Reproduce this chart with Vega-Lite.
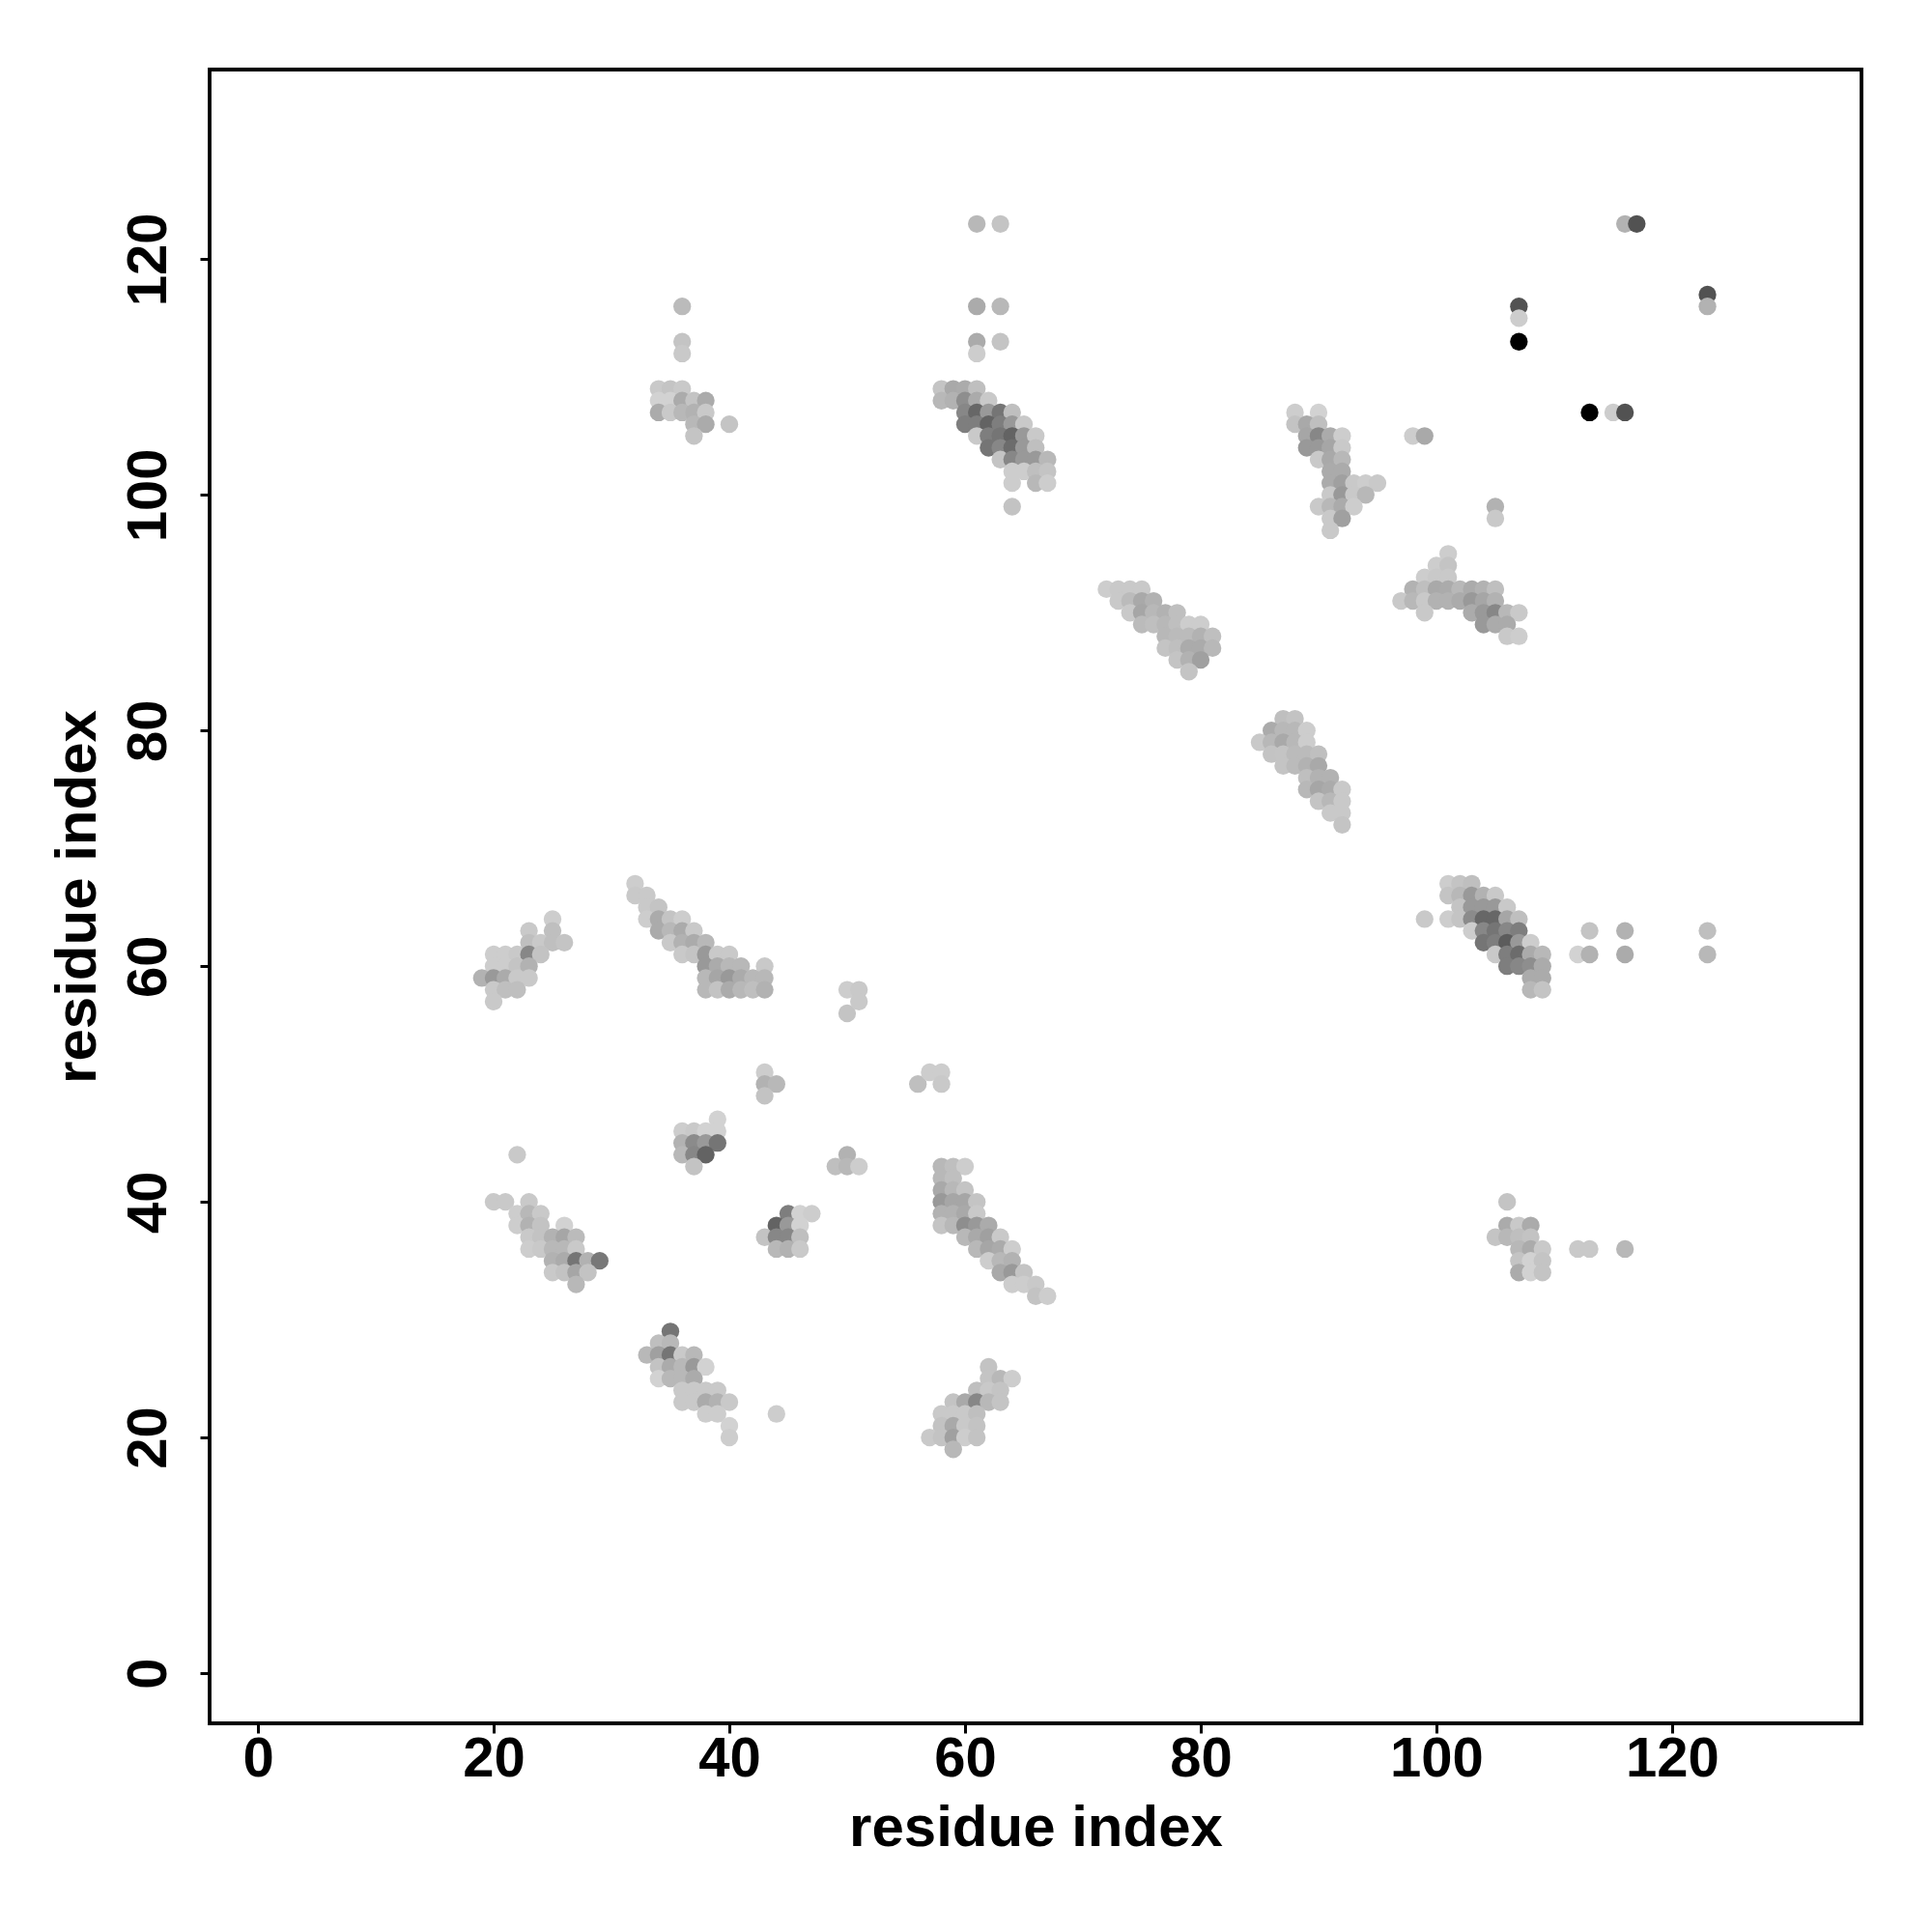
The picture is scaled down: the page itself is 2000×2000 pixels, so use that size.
{"$schema":"https://vega.github.io/schema/vega-lite/v6.json","width":1710,"height":1712,"autosize":"none","padding":{"left":217,"top":72,"right":73,"bottom":216},"background":"white",
"config":{"view":{"stroke":"black","strokeWidth":3.8,"fill":"white"},"axis":{"grid":false,"domain":false,"ticks":true,"tickColor":"black","tickSize":10,"tickWidth":3,"labelFont":"Liberation Sans","labelFontWeight":"bold","labelFontSize":58,"labelColor":"black","titleFont":"Liberation Sans","titleFontWeight":"bold","titleFontSize":60,"titleColor":"black","labelFlush":false,"labelOverlap":false}},
"data":{"values":[
{"x":35,"y":29,"v":119},{"x":34,"y":28,"v":187},{"x":35,"y":28,"v":181},{"x":33,"y":27,"v":181},{"x":34,"y":27,"v":160},{"x":35,"y":27,"v":119},{"x":36,"y":27,"v":196},{"x":37,"y":27,"v":181},{"x":34,"y":26,"v":191},{"x":35,"y":26,"v":170},{"x":36,"y":26,"v":181},{"x":37,"y":26,"v":153},{"x":38,"y":26,"v":204},{"x":34,"y":25,"v":204},{"x":35,"y":25,"v":181},{"x":36,"y":25,"v":181},{"x":37,"y":25,"v":170},{"x":36,"y":24,"v":196},{"x":37,"y":24,"v":196},{"x":38,"y":24,"v":196},{"x":39,"y":24,"v":196},{"x":36,"y":23,"v":196},{"x":37,"y":23,"v":196},{"x":38,"y":23,"v":170},{"x":39,"y":23,"v":176},{"x":40,"y":23,"v":196},{"x":38,"y":22,"v":200},{"x":39,"y":22,"v":200},{"x":40,"y":21,"v":204},{"x":40,"y":20,"v":200},{"x":44,"y":22,"v":200},
{"x":22,"y":44,"v":196},{"x":20,"y":40,"v":196},{"x":21,"y":40,"v":196},{"x":23,"y":40,"v":196},{"x":22,"y":39,"v":200},{"x":23,"y":39,"v":181},{"x":24,"y":39,"v":196},{"x":22,"y":38,"v":200},{"x":23,"y":38,"v":176},{"x":24,"y":38,"v":191},{"x":26,"y":38,"v":204},{"x":23,"y":37,"v":196},{"x":24,"y":37,"v":191},{"x":25,"y":37,"v":176},{"x":26,"y":37,"v":165},{"x":27,"y":37,"v":184},{"x":23,"y":36,"v":200},{"x":24,"y":36,"v":196},{"x":25,"y":36,"v":181},{"x":26,"y":36,"v":181},{"x":27,"y":36,"v":196},{"x":25,"y":35,"v":176},{"x":26,"y":35,"v":170},{"x":27,"y":35,"v":119},{"x":28,"y":35,"v":176},{"x":29,"y":35,"v":122},{"x":25,"y":34,"v":196},{"x":26,"y":34,"v":191},{"x":27,"y":34,"v":165},{"x":28,"y":34,"v":191},{"x":27,"y":33,"v":181},
{"x":39,"y":47,"v":204},{"x":36,"y":46,"v":200},{"x":37,"y":46,"v":196},{"x":38,"y":46,"v":204},{"x":39,"y":46,"v":204},{"x":36,"y":45,"v":176},{"x":37,"y":45,"v":140},{"x":38,"y":45,"v":153},{"x":39,"y":45,"v":119},{"x":36,"y":44,"v":181},{"x":37,"y":44,"v":136},{"x":38,"y":44,"v":102},{"x":37,"y":43,"v":191},
{"x":43,"y":51,"v":200},{"x":43,"y":50,"v":176},{"x":44,"y":50,"v":181},{"x":43,"y":49,"v":191},{"x":50,"y":56,"v":192},{"x":50,"y":44,"v":176},{"x":49,"y":43,"v":187},{"x":50,"y":43,"v":181},{"x":51,"y":43,"v":200},{"x":56,"y":50,"v":187},{"x":57,"y":51,"v":200},{"x":58,"y":51,"v":200},{"x":58,"y":50,"v":196},
{"x":45,"y":39,"v":128},{"x":46,"y":39,"v":204},{"x":47,"y":39,"v":200},{"x":44,"y":38,"v":102},{"x":45,"y":38,"v":153},{"x":46,"y":38,"v":204},{"x":43,"y":37,"v":191},{"x":44,"y":37,"v":136},{"x":45,"y":37,"v":136},{"x":46,"y":37,"v":187},{"x":44,"y":36,"v":181},{"x":45,"y":36,"v":176},{"x":46,"y":36,"v":196},
{"x":58,"y":43,"v":181},{"x":59,"y":43,"v":187},{"x":60,"y":43,"v":200},{"x":58,"y":42,"v":181},{"x":59,"y":42,"v":187},{"x":58,"y":41,"v":168},{"x":59,"y":41,"v":181},{"x":60,"y":41,"v":192},{"x":58,"y":40,"v":153},{"x":59,"y":40,"v":165},{"x":60,"y":40,"v":165},{"x":61,"y":40,"v":192},{"x":58,"y":39,"v":176},{"x":59,"y":39,"v":176},{"x":60,"y":39,"v":168},{"x":61,"y":39,"v":196},{"x":58,"y":38,"v":192},{"x":59,"y":38,"v":181},{"x":60,"y":38,"v":143},{"x":61,"y":38,"v":153},{"x":62,"y":38,"v":170},{"x":60,"y":37,"v":181},{"x":61,"y":37,"v":168},{"x":62,"y":37,"v":160},{"x":63,"y":37,"v":196},{"x":61,"y":36,"v":181},{"x":62,"y":36,"v":165},{"x":63,"y":36,"v":170},{"x":64,"y":36,"v":200},{"x":62,"y":35,"v":200},{"x":63,"y":35,"v":181},{"x":64,"y":35,"v":176},{"x":63,"y":34,"v":168},{"x":64,"y":34,"v":153},{"x":65,"y":34,"v":192},{"x":64,"y":33,"v":200},{"x":65,"y":33,"v":200},{"x":66,"y":33,"v":196},{"x":66,"y":32,"v":191},{"x":67,"y":32,"v":200},
{"x":62,"y":26,"v":191},{"x":62,"y":25,"v":192},{"x":63,"y":25,"v":181},{"x":64,"y":25,"v":200},{"x":61,"y":24,"v":187},{"x":62,"y":24,"v":196},{"x":63,"y":24,"v":192},{"x":59,"y":23,"v":191},{"x":60,"y":23,"v":168},{"x":61,"y":23,"v":136},{"x":62,"y":23,"v":181},{"x":63,"y":23,"v":192},{"x":58,"y":22,"v":196},{"x":59,"y":22,"v":196},{"x":60,"y":22,"v":196},{"x":61,"y":22,"v":187},{"x":58,"y":21,"v":191},{"x":59,"y":21,"v":168},{"x":60,"y":21,"v":196},{"x":61,"y":21,"v":191},{"x":57,"y":20,"v":196},{"x":58,"y":20,"v":191},{"x":59,"y":20,"v":160},{"x":60,"y":20,"v":200},{"x":61,"y":20,"v":191},{"x":59,"y":19,"v":181},
{"x":36,"y":116,"v":184},{"x":36,"y":113,"v":192},{"x":36,"y":112,"v":196},{"x":34,"y":109,"v":196},{"x":35,"y":109,"v":192},{"x":36,"y":109,"v":196},{"x":34,"y":108,"v":204},{"x":35,"y":108,"v":204},{"x":36,"y":108,"v":170},{"x":37,"y":108,"v":192},{"x":38,"y":108,"v":170},{"x":34,"y":107,"v":170},{"x":35,"y":107,"v":196},{"x":36,"y":107,"v":181},{"x":37,"y":107,"v":176},{"x":38,"y":107,"v":196},{"x":37,"y":106,"v":181},{"x":38,"y":106,"v":170},{"x":40,"y":106,"v":192},{"x":37,"y":105,"v":192},
{"x":61,"y":123,"v":181},{"x":63,"y":123,"v":192},{"x":61,"y":116,"v":170},{"x":63,"y":116,"v":181},{"x":61,"y":113,"v":170},{"x":63,"y":113,"v":192},{"x":61,"y":112,"v":200},
{"x":58,"y":109,"v":192},{"x":59,"y":109,"v":168},{"x":60,"y":109,"v":170},{"x":61,"y":109,"v":187},{"x":58,"y":108,"v":181},{"x":59,"y":108,"v":176},{"x":60,"y":108,"v":143},{"x":61,"y":108,"v":170},{"x":62,"y":108,"v":196},{"x":60,"y":107,"v":136},{"x":61,"y":107,"v":106},{"x":62,"y":107,"v":153},{"x":63,"y":107,"v":119},{"x":64,"y":107,"v":187},{"x":60,"y":106,"v":128},{"x":61,"y":106,"v":128},{"x":62,"y":106,"v":102},{"x":63,"y":106,"v":128},{"x":64,"y":106,"v":153},{"x":65,"y":106,"v":196},{"x":61,"y":105,"v":196},{"x":62,"y":105,"v":128},{"x":63,"y":105,"v":119},{"x":64,"y":105,"v":102},{"x":65,"y":105,"v":153},{"x":66,"y":105,"v":196},{"x":62,"y":104,"v":119},{"x":63,"y":104,"v":136},{"x":64,"y":104,"v":111},{"x":65,"y":104,"v":153},{"x":66,"y":104,"v":187},{"x":63,"y":103,"v":192},{"x":64,"y":103,"v":136},{"x":65,"y":103,"v":153},{"x":66,"y":103,"v":153},{"x":67,"y":103,"v":181},{"x":64,"y":102,"v":200},{"x":65,"y":102,"v":200},{"x":66,"y":102,"v":187},{"x":67,"y":102,"v":192},{"x":64,"y":101,"v":200},{"x":66,"y":101,"v":181},{"x":67,"y":101,"v":200},{"x":64,"y":99,"v":191},
{"x":72,"y":92,"v":200},{"x":73,"y":92,"v":196},{"x":74,"y":92,"v":196},{"x":75,"y":92,"v":196},{"x":73,"y":91,"v":196},{"x":74,"y":91,"v":184},{"x":75,"y":91,"v":168},{"x":76,"y":91,"v":176},{"x":74,"y":90,"v":196},{"x":75,"y":90,"v":165},{"x":76,"y":90,"v":181},{"x":77,"y":90,"v":176},{"x":78,"y":90,"v":187},{"x":75,"y":89,"v":184},{"x":76,"y":89,"v":187},{"x":77,"y":89,"v":181},{"x":78,"y":89,"v":187},{"x":79,"y":89,"v":200},{"x":80,"y":89,"v":200},{"x":77,"y":88,"v":181},{"x":78,"y":88,"v":184},{"x":79,"y":88,"v":184},{"x":80,"y":88,"v":176},{"x":81,"y":88,"v":187},{"x":77,"y":87,"v":192},{"x":78,"y":87,"v":187},{"x":79,"y":87,"v":170},{"x":80,"y":87,"v":170},{"x":81,"y":87,"v":181},{"x":78,"y":86,"v":192},{"x":79,"y":86,"v":176},{"x":80,"y":86,"v":160},{"x":79,"y":85,"v":192},
{"x":87,"y":81,"v":187},{"x":88,"y":81,"v":191},{"x":86,"y":80,"v":170},{"x":87,"y":80,"v":181},{"x":88,"y":80,"v":181},{"x":89,"y":80,"v":200},{"x":85,"y":79,"v":196},{"x":86,"y":79,"v":181},{"x":87,"y":79,"v":168},{"x":88,"y":79,"v":181},{"x":89,"y":79,"v":200},{"x":86,"y":78,"v":191},{"x":87,"y":78,"v":192},{"x":88,"y":78,"v":184},{"x":89,"y":78,"v":184},{"x":90,"y":78,"v":187},{"x":87,"y":77,"v":192},{"x":88,"y":77,"v":184},{"x":89,"y":77,"v":176},{"x":90,"y":77,"v":168},{"x":89,"y":76,"v":187},{"x":90,"y":76,"v":176},{"x":91,"y":76,"v":176},{"x":89,"y":75,"v":181},{"x":90,"y":75,"v":165},{"x":91,"y":75,"v":170},{"x":92,"y":75,"v":196},{"x":90,"y":74,"v":192},{"x":91,"y":74,"v":181},{"x":92,"y":74,"v":196},{"x":91,"y":73,"v":196},{"x":92,"y":73,"v":196},{"x":92,"y":72,"v":192},
{"x":88,"y":107,"v":200},{"x":90,"y":107,"v":204},{"x":88,"y":106,"v":191},{"x":89,"y":106,"v":168},{"x":90,"y":106,"v":187},{"x":89,"y":105,"v":165},{"x":90,"y":105,"v":136},{"x":91,"y":105,"v":170},{"x":92,"y":105,"v":200},{"x":98,"y":105,"v":200},{"x":99,"y":105,"v":168},{"x":89,"y":104,"v":153},{"x":90,"y":104,"v":153},{"x":91,"y":104,"v":165},{"x":92,"y":104,"v":196},{"x":90,"y":103,"v":196},{"x":91,"y":103,"v":168},{"x":92,"y":103,"v":181},{"x":91,"y":102,"v":170},{"x":92,"y":102,"v":170},{"x":91,"y":101,"v":170},{"x":92,"y":101,"v":160},{"x":93,"y":101,"v":196},{"x":94,"y":101,"v":200},{"x":95,"y":101,"v":196},{"x":91,"y":100,"v":196},{"x":92,"y":100,"v":153},{"x":93,"y":100,"v":196},{"x":94,"y":100,"v":181},{"x":90,"y":99,"v":196},{"x":91,"y":99,"v":181},{"x":92,"y":99,"v":170},{"x":93,"y":99,"v":200},{"x":91,"y":98,"v":196},{"x":92,"y":98,"v":160},{"x":91,"y":97,"v":196},
{"x":105,"y":99,"v":176},{"x":105,"y":98,"v":196},{"x":101,"y":95,"v":200},{"x":100,"y":94,"v":200},{"x":101,"y":94,"v":192},{"x":99,"y":93,"v":200},{"x":100,"y":93,"v":196},{"x":101,"y":93,"v":196},{"x":98,"y":92,"v":176},{"x":99,"y":92,"v":187},{"x":100,"y":92,"v":168},{"x":101,"y":92,"v":170},{"x":102,"y":92,"v":181},{"x":103,"y":92,"v":170},{"x":104,"y":92,"v":176},{"x":105,"y":92,"v":187},{"x":97,"y":91,"v":196},{"x":98,"y":91,"v":181},{"x":99,"y":91,"v":196},{"x":100,"y":91,"v":176},{"x":101,"y":91,"v":176},{"x":102,"y":91,"v":170},{"x":103,"y":91,"v":153},{"x":104,"y":91,"v":165},{"x":105,"y":91,"v":176},{"x":99,"y":90,"v":196},{"x":103,"y":90,"v":170},{"x":104,"y":90,"v":153},{"x":105,"y":90,"v":136},{"x":106,"y":90,"v":181},{"x":107,"y":90,"v":196},{"x":104,"y":89,"v":153},{"x":105,"y":89,"v":170},{"x":106,"y":89,"v":170},{"x":106,"y":88,"v":196},{"x":107,"y":88,"v":200},
{"x":101,"y":67,"v":200},{"x":102,"y":67,"v":192},{"x":103,"y":67,"v":187},{"x":101,"y":66,"v":192},{"x":102,"y":66,"v":181},{"x":103,"y":66,"v":153},{"x":104,"y":66,"v":176},{"x":105,"y":66,"v":196},{"x":102,"y":65,"v":192},{"x":103,"y":65,"v":153},{"x":104,"y":65,"v":153},{"x":105,"y":65,"v":153},{"x":106,"y":65,"v":196},{"x":99,"y":64,"v":196},{"x":101,"y":64,"v":200},{"x":102,"y":64,"v":192},{"x":103,"y":64,"v":140},{"x":104,"y":64,"v":106},{"x":105,"y":64,"v":106},{"x":106,"y":64,"v":165},{"x":107,"y":64,"v":187},{"x":103,"y":63,"v":200},{"x":104,"y":63,"v":136},{"x":105,"y":63,"v":119},{"x":106,"y":63,"v":136},{"x":107,"y":63,"v":128},{"x":104,"y":62,"v":119},{"x":105,"y":62,"v":128},{"x":106,"y":62,"v":95},{"x":107,"y":62,"v":153},{"x":108,"y":62,"v":200},{"x":105,"y":61,"v":196},{"x":106,"y":61,"v":128},{"x":107,"y":61,"v":111},{"x":108,"y":61,"v":170},{"x":109,"y":61,"v":181},{"x":106,"y":60,"v":128},{"x":107,"y":60,"v":136},{"x":108,"y":60,"v":143},{"x":109,"y":60,"v":170},{"x":108,"y":59,"v":170},{"x":109,"y":59,"v":170},{"x":108,"y":58,"v":181},{"x":109,"y":58,"v":192},
{"x":113,"y":63,"v":192},{"x":116,"y":63,"v":176},{"x":123,"y":63,"v":187},{"x":112,"y":61,"v":204},{"x":113,"y":61,"v":176},{"x":116,"y":61,"v":170},{"x":123,"y":61,"v":181},
{"x":106,"y":40,"v":192},{"x":106,"y":38,"v":170},{"x":107,"y":38,"v":196},{"x":108,"y":38,"v":170},{"x":105,"y":37,"v":192},{"x":106,"y":37,"v":181},{"x":107,"y":37,"v":187},{"x":108,"y":37,"v":191},{"x":107,"y":36,"v":181},{"x":108,"y":36,"v":170},{"x":109,"y":36,"v":196},{"x":112,"y":36,"v":196},{"x":113,"y":36,"v":196},{"x":116,"y":36,"v":181},{"x":107,"y":35,"v":192},{"x":108,"y":35,"v":204},{"x":109,"y":35,"v":192},{"x":107,"y":34,"v":170},{"x":108,"y":34,"v":204},{"x":109,"y":34,"v":192},
{"x":25,"y":64,"v":200},{"x":23,"y":63,"v":196},{"x":25,"y":63,"v":187},{"x":23,"y":62,"v":187},{"x":24,"y":62,"v":196},{"x":25,"y":62,"v":187},{"x":26,"y":62,"v":192},{"x":20,"y":61,"v":200},{"x":21,"y":61,"v":200},{"x":22,"y":61,"v":196},{"x":23,"y":61,"v":136},{"x":24,"y":61,"v":191},{"x":20,"y":60,"v":200},{"x":21,"y":60,"v":200},{"x":22,"y":60,"v":192},{"x":23,"y":60,"v":176},{"x":19,"y":59,"v":176},{"x":20,"y":59,"v":153},{"x":21,"y":59,"v":170},{"x":22,"y":59,"v":196},{"x":23,"y":59,"v":196},{"x":20,"y":58,"v":196},{"x":21,"y":58,"v":187},{"x":22,"y":58,"v":187},{"x":20,"y":57,"v":196},
{"x":32,"y":67,"v":200},{"x":32,"y":66,"v":196},{"x":33,"y":66,"v":196},{"x":33,"y":65,"v":196},{"x":34,"y":65,"v":192},{"x":33,"y":64,"v":200},{"x":34,"y":64,"v":170},{"x":35,"y":64,"v":192},{"x":36,"y":64,"v":200},{"x":34,"y":63,"v":170},{"x":35,"y":63,"v":181},{"x":36,"y":63,"v":170},{"x":37,"y":63,"v":196},{"x":35,"y":62,"v":196},{"x":36,"y":62,"v":176},{"x":37,"y":62,"v":170},{"x":38,"y":62,"v":181},{"x":36,"y":61,"v":196},{"x":37,"y":61,"v":192},{"x":38,"y":61,"v":153},{"x":39,"y":61,"v":196},{"x":40,"y":61,"v":196},{"x":38,"y":60,"v":153},{"x":39,"y":60,"v":170},{"x":40,"y":60,"v":181},{"x":41,"y":60,"v":181},{"x":43,"y":60,"v":196},{"x":38,"y":59,"v":181},{"x":39,"y":59,"v":165},{"x":40,"y":59,"v":153},{"x":41,"y":59,"v":170},{"x":42,"y":59,"v":181},{"x":43,"y":59,"v":181},{"x":38,"y":58,"v":181},{"x":39,"y":58,"v":191},{"x":40,"y":58,"v":170},{"x":41,"y":58,"v":181},{"x":42,"y":58,"v":187},{"x":43,"y":58,"v":176},
{"x":50,"y":58,"v":200},{"x":51,"y":58,"v":196},{"x":51,"y":57,"v":196},
{"x":116,"y":123,"v":176},{"x":117,"y":123,"v":85},{"x":123,"y":117,"v":85},{"x":123,"y":116,"v":176},{"x":107,"y":116,"v":85},{"x":107,"y":115,"v":200},{"x":107,"y":113,"v":0},{"x":113,"y":107,"v":0},{"x":115,"y":107,"v":200},{"x":116,"y":107,"v":85}
]},
"mark":{"type":"circle","size":335,"opacity":1},
"encoding":{
"x":{"field":"x","type":"quantitative","scale":{"domain":[-4.1,136.07],"nice":false,"zero":false},"axis":{"values":[0,20,40,60,80,100,120],"title":"residue index","labelPadding":-2,"titlePadding":13}},
"y":{"field":"y","type":"quantitative","scale":{"domain":[-4.26,136.1],"nice":false,"zero":false},"axis":{"values":[0,20,40,60,80,100,120],"title":"residue index","labelAngle":-90,"labelAlign":"center","labelBaseline":"bottom","labelPadding":24,"titlePadding":14}},
"color":{"field":"v","type":"quantitative","legend":null,"scale":{"domain":[0,204],"range":["#000000","#d2d2d2"]}},
"order":[{"field":"x"},{"field":"y"}]
}}
